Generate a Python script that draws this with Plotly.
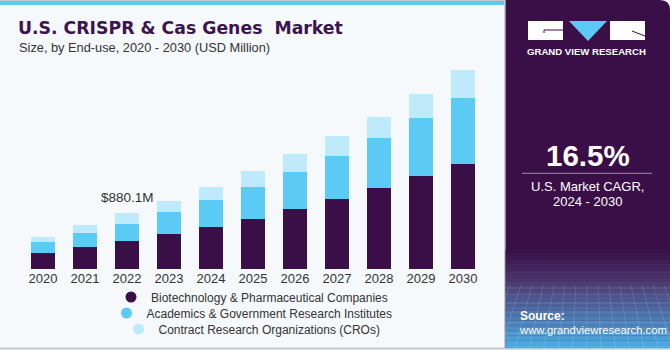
import plotly.graph_objects as go

years = ["2020", "2021", "2022", "2023", "2024", "2025", "2026", "2027", "2028", "2029", "2030"]
biotech = [257, 348, 438.2, 548, 659, 785, 943, 1101, 1275, 1465, 1664]
academics = [164, 226, 278.1, 352, 431, 515, 589, 684, 799, 916, 1043]
cros = [88, 122, 163.8, 174, 201, 248, 284, 321, 327, 384, 438]
series_names = ["Biotechnology & Pharmaceutical Companies",
                "Academics & Government Research Institutes",
                "Contract Research Organizations (CROs)"]
series_colors = ["#3A0F48", "#5BCBF6", "#BEEAFB"]
label_year = "2022"
label_text = "$880.1M"
cagr_text = "16.5%"

W, H = 670, 350


def px(x):
    return x / W


def py(y):
    return 1 - y / H


fig = go.Figure()
for vals, name, col in zip([biotech, academics, cros], series_names, series_colors):
    fig.add_trace(go.Bar(x=list(years), y=list(vals), name=name, marker_color=col,
                         marker_line_width=0, showlegend=False, xaxis="x", yaxis="y"))

for i, (name, col) in enumerate(zip(series_names, series_colors)):
    fig.add_trace(go.Scatter(x=[0], y=[-10], mode="markers", name=name,
                             marker=dict(color=col, size=11, symbol="circle"),
                             xaxis="x2", yaxis="y2",
                             legend="legend" if i == 0 else f"legend{i+1}"))

shapes = []
# left panel background
shapes.append(dict(type="rect", xref="paper", yref="paper", x0=0, x1=px(505), y0=py(348), y1=1,
                   fillcolor="#F5F9FC", line_width=0, layer="below"))
# top stripe
shapes.append(dict(type="rect", xref="paper", yref="paper", x0=0, x1=px(505), y0=py(5), y1=py(1),
                   fillcolor="#5BC8F5", line_width=0, layer="below"))
shapes.append(dict(type="line", xref="paper", yref="paper", x0=0, x1=px(505), y0=py(0.5), y1=py(0.5),
                   line=dict(color="#C8C8C8", width=1), layer="below"))
# borders
shapes.append(dict(type="line", xref="paper", yref="paper", x0=px(504.5), x1=px(504.5), y0=py(348), y1=py(1),
                   line=dict(color="#C8CCD0", width=1), layer="below"))
shapes.append(dict(type="line", xref="paper", yref="paper", x0=0, x1=1, y0=py(348.5), y1=py(348.5),
                   line=dict(color="#C8CCD0", width=2), layer="below"))
# right panel
shapes.append(dict(type="path", xref="paper", yref="paper",
                   path=f"M {px(505.5)} {py(348)} L {px(505.5)} {py(0)} L {px(660)} {py(0)} "
                        f"Q {px(670)} {py(0)} {px(670)} {py(10)} L {px(670)} {py(348)} Z",
                   fillcolor="#3A0F48", line_width=0, layer="below"))


def lerp(c1, c2, t):
    return "rgb(%d,%d,%d)" % tuple(round(a + (b - a) * t) for a, b in zip(c1, c2))


top = (58, 15, 72)
mid = (78, 60, 115)
bot = (76, 176, 232)
n1 = 12
for k in range(n1):
    y0 = 250 + k * (283 - 250) / n1
    y1 = 250 + (k + 1) * (283 - 250) / n1
    shapes.append(dict(type="rect", xref="paper", yref="paper", x0=px(505.5), x1=1, y0=py(y1), y1=py(y0),
                       fillcolor=lerp(top, mid, (k + 0.5) / n1), line_width=0, layer="below"))
n2 = 26
for k in range(n2):
    y0 = 283 + k * (348 - 283) / n2
    y1 = 283 + (k + 1) * (348 - 283) / n2
    shapes.append(dict(type="rect", xref="paper", yref="paper", x0=px(505.5), x1=1, y0=py(y1 + 0.3), y1=py(y0),
                       fillcolor=lerp(mid, bot, (k + 0.5) / n2), line_width=0, layer="below"))
# faint grid in gradient
for gx in range(510, 670, 11):
    shapes.append(dict(type="line", xref="paper", yref="paper", x0=px(gx), x1=px(gx + (gx - 588) * 0.3),
                       y0=py(285), y1=py(348), line=dict(color="rgba(255,255,255,0.12)", width=1), layer="below"))
for gy in [288, 295, 303, 312, 322, 334, 346]:
    shapes.append(dict(type="line", xref="paper", yref="paper", x0=px(506), x1=1,
                       y0=py(gy), y1=py(gy), line=dict(color="rgba(255,255,255,0.12)", width=1), layer="below"))

# logo
shapes.append(dict(type="rect", xref="paper", yref="paper", x0=px(528), x1=px(563), y0=py(40), y1=py(21),
                   fillcolor="white", line_width=0, layer="below"))
shapes.append(dict(type="rect", xref="paper", yref="paper", x0=px(610), x1=px(645), y0=py(40), y1=py(21),
                   fillcolor="white", line_width=0, layer="below"))
shapes.append(dict(type="path", xref="paper", yref="paper",
                   path=f"M {px(569)} {py(21)} L {px(607)} {py(21)} L {px(588)} {py(41)} Z",
                   fillcolor="#5BC8F5", line_width=0, layer="below"))
shapes.append(dict(type="path", xref="paper", yref="paper",
                   path=f"M {px(563)} {py(30)} L {px(544)} {py(30)} L {px(544)} {py(33)}",
                   line=dict(color="#3A0F48", width=1), layer="below"))
shapes.append(dict(type="line", xref="paper", yref="paper", x0=px(632), x1=px(645), y0=py(31), y1=py(36),
                   line=dict(color="#3A0F48", width=1), layer="below"))
# CAGR separator
shapes.append(dict(type="line", xref="paper", yref="paper", x0=px(522), x1=px(652), y0=py(173.3), y1=py(173.3),
                   line=dict(color="#A08AB0", width=1)))

label_idx = years.index(label_year)
annotations = [
    dict(text="<b>U.S. CRISPR &amp; Cas Genes  Market</b>", x=px(16), y=py(28.5), xref="paper", yref="paper",
         xanchor="left", yanchor="middle", showarrow=False,
         font=dict(family="DejaVu Sans", size=17.3, color="#3B1450")),
    dict(text="Size, by End-use, 2020 - 2030 (USD Million)", x=px(17), y=py(48), xref="paper", yref="paper",
         xanchor="left", yanchor="middle", showarrow=False,
         font=dict(family="Liberation Sans", size=12.8, color="#333333")),
    dict(text=label_text, x=label_idx,
         y=biotech[label_idx] + academics[label_idx] + cros[label_idx],
         xref="x", yref="y", yanchor="bottom", yshift=6, showarrow=False,
         font=dict(family="Liberation Sans", size=13.5, color="#333333")),
    dict(text="<b>GRAND VIEW RESEARCH</b>", x=px(586.5), y=py(51.5), xref="paper", yref="paper",
         xanchor="center", yanchor="middle", showarrow=False,
         font=dict(family="Liberation Sans", size=9.6, color="white")),
    dict(text=f"<b>{cagr_text}</b>", x=px(588), y=py(155.5), xref="paper", yref="paper",
         xanchor="center", yanchor="middle", showarrow=False,
         font=dict(family="Liberation Sans", size=29.5, color="white")),
    dict(text="U.S. Market CAGR,", x=px(587), y=py(186), xref="paper", yref="paper",
         xanchor="center", yanchor="middle", showarrow=False,
         font=dict(family="Liberation Sans", size=13, color="white")),
    dict(text="2024 - 2030", x=px(587), y=py(201), xref="paper", yref="paper",
         xanchor="center", yanchor="middle", showarrow=False,
         font=dict(family="Liberation Sans", size=13, color="white")),
    dict(text="<b>Source:</b>", x=px(518), y=py(316), xref="paper", yref="paper",
         xanchor="left", yanchor="middle", showarrow=False,
         font=dict(family="Liberation Sans", size=12, color="white")),
    dict(text="www.grandviewresearch.com", x=px(517), y=py(329.5), xref="paper", yref="paper",
         xanchor="left", yanchor="middle", showarrow=False,
         font=dict(family="Liberation Sans", size=11.3, color="white")),
]

legend_common = dict(orientation="v", xanchor="center", yanchor="middle", bgcolor="rgba(0,0,0,0)",
                     font=dict(family="Liberation Sans", size=12, color="#333333"),
                     itemwidth=30, tracegroupgap=0)

fig.update_layout(
    width=W, height=H, margin=dict(l=0, r=0, t=0, b=0),
    paper_bgcolor="#F5F9FC", plot_bgcolor="rgba(0,0,0,0)",
    barmode="stack", bargap=0.43,
    xaxis=dict(type="category", categoryorder="array", categoryarray=years,
               domain=[px(22), px(484)], showgrid=False, showline=False, ticks="",
               zeroline=False, tickfont=dict(family="Liberation Sans", size=13, color="#333333"),
               fixedrange=True),
    yaxis=dict(domain=[py(269), py(60)], range=[0, 3302], visible=False, fixedrange=True),
    xaxis2=dict(domain=[0, 0.05], range=[1, 2], visible=False, anchor="y2"),
    yaxis2=dict(domain=[0, 0.05], range=[1, 2], visible=False, anchor="x2"),
    shapes=shapes, annotations=annotations,
    legend=dict(x=px(252), y=py(297), **legend_common),
    legend2=dict(x=px(252), y=py(313), **legend_common),
    legend3=dict(x=px(252), y=py(329), **legend_common),
    showlegend=True,
)

fig.write_html("out.html")
